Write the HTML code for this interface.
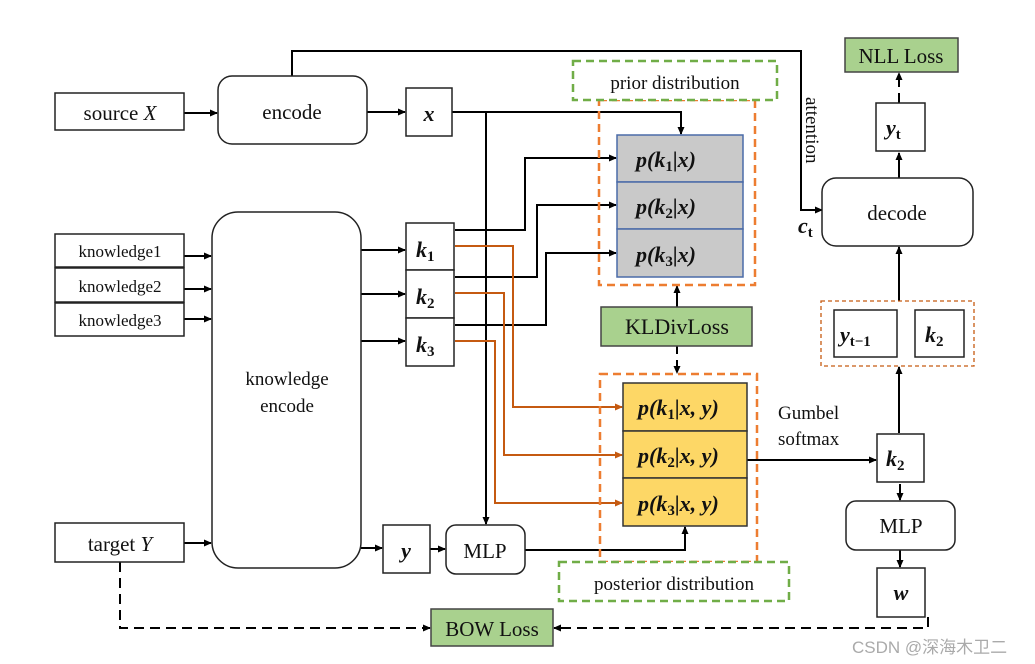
<!DOCTYPE html>
<html><head><meta charset="utf-8"><style>
html,body{margin:0;padding:0;background:#fff;width:1035px;height:664px;overflow:hidden}
text{font-family:"Liberation Serif",serif;fill:#111}
.b{font-weight:bold;font-style:italic}
.s{font-style:normal;font-size:15px}
</style></head><body>
<svg width="1035" height="664" viewBox="0 0 1035 664" xmlns="http://www.w3.org/2000/svg">
<defs>
<marker id="a" markerWidth="8" markerHeight="8" refX="7" refY="4" orient="auto" markerUnits="userSpaceOnUse"><path d="M0,0.5 L8,4 L0,7.5z" fill="#000"/></marker>
<marker id="o" markerWidth="8" markerHeight="8" refX="7" refY="4" orient="auto" markerUnits="userSpaceOnUse"><path d="M0,0.5 L8,4 L0,7.5z" fill="#c55a11"/></marker>
</defs>
<g fill="none" stroke="#000" stroke-width="2">
<polyline points="292,76 292,51 801,51 801,210 822,210" marker-end="url(#a)"/>
<line x1="184" y1="113" x2="217" y2="113" marker-end="url(#a)"/>
<line x1="367" y1="112" x2="405" y2="112" marker-end="url(#a)"/>
<polyline points="452,112 681,112 681,134" marker-end="url(#a)"/>
<line x1="486" y1="112" x2="486" y2="524" marker-end="url(#a)"/>
<line x1="184" y1="256" x2="211" y2="256" marker-end="url(#a)"/>
<line x1="184" y1="289" x2="211" y2="289" marker-end="url(#a)"/>
<line x1="184" y1="319" x2="211" y2="319" marker-end="url(#a)"/>
<line x1="184" y1="543" x2="211" y2="543" marker-end="url(#a)"/>
<line x1="361" y1="250" x2="405" y2="250" marker-end="url(#a)"/>
<line x1="361" y1="294" x2="405" y2="294" marker-end="url(#a)"/>
<line x1="361" y1="341" x2="405" y2="341" marker-end="url(#a)"/>
<line x1="361" y1="548" x2="382" y2="548" marker-end="url(#a)"/>
<line x1="430" y1="549" x2="445" y2="549" marker-end="url(#a)"/>
<polyline points="455,230 525,230 525,158 616,158" marker-end="url(#a)"/>
<polyline points="455,277 537,277 537,205 616,205" marker-end="url(#a)"/>
<polyline points="455,325 546,325 546,253 616,253" marker-end="url(#a)"/>
<polyline points="525,550 685,550 685,527" marker-end="url(#a)"/>
<line x1="747" y1="460" x2="876" y2="460" marker-end="url(#a)"/>
<line x1="677" y1="307" x2="677" y2="286" marker-end="url(#a)"/>
<line x1="899" y1="433" x2="899" y2="367" marker-end="url(#a)"/>
<line x1="899" y1="301" x2="899" y2="247" marker-end="url(#a)"/>
<line x1="899" y1="178" x2="899" y2="153" marker-end="url(#a)"/>
<line x1="899" y1="103" x2="899" y2="73" marker-end="url(#a)" stroke-dasharray="10,6"/>
<line x1="900" y1="484" x2="900" y2="500" marker-end="url(#a)"/>
<line x1="900" y1="550" x2="900" y2="567" marker-end="url(#a)"/>
<line x1="677" y1="346" x2="677" y2="373" marker-end="url(#a)" stroke-dasharray="8,6"/>
<polyline points="120,562 120,628 430,628" marker-end="url(#a)" stroke-dasharray="10,6"/>
<polyline points="928,617 928,628 554,628" marker-end="url(#a)" stroke-dasharray="10,6"/>
</g>
<g fill="none" stroke="#c55a11" stroke-width="2">
<polyline points="455,246 513,246 513,407 622,407" marker-end="url(#o)"/>
<polyline points="455,293 504,293 504,455 622,455" marker-end="url(#o)"/>
<polyline points="455,341 495,341 495,503 622,503" marker-end="url(#o)"/>
</g>
<g fill="none" stroke-width="2.5" stroke-dasharray="8,5">
<rect x="599" y="100" width="156" height="185" stroke="#ed7d31"/>
<rect x="600" y="374" width="157" height="188" stroke="#ed7d31"/>
<rect x="573" y="61" width="204" height="39" stroke="#70ad47" fill="#fff"/>
<rect x="559" y="562" width="230" height="39" stroke="#70ad47" fill="#fff"/>
</g>
<rect x="821" y="301" width="153" height="65" fill="none" stroke="#c55a11" stroke-width="1.3" stroke-dasharray="4,3"/>
<g stroke="#222" stroke-width="1.5" fill="#fff">
<rect x="55" y="93" width="129" height="37"/>
<rect x="218" y="76" width="149" height="68" rx="14"/>
<rect x="406" y="88" width="46" height="48"/>
<rect x="55" y="234" width="129" height="33"/>
<rect x="55" y="268" width="129" height="34"/>
<rect x="55" y="303" width="129" height="33"/>
<rect x="212" y="212" width="149" height="356" rx="26"/>
<rect x="406" y="223" width="48" height="47"/>
<rect x="406" y="270" width="48" height="48"/>
<rect x="406" y="318" width="48" height="48"/>
<rect x="55" y="523" width="129" height="39"/>
<rect x="383" y="525" width="47" height="48"/>
<rect x="446" y="525" width="79" height="49" rx="10"/>
<rect x="822" y="178" width="151" height="68" rx="14"/>
<rect x="876" y="103" width="49" height="48"/>
<rect x="834" y="310" width="63" height="47"/>
<rect x="915" y="310" width="49" height="47"/>
<rect x="877" y="434" width="47" height="48"/>
<rect x="846" y="501" width="109" height="49" rx="10"/>
<rect x="877" y="568" width="48" height="49"/>
</g>
<g stroke="#4a6ba8" stroke-width="1.5" fill="#c9c9c9">
<rect x="617" y="135" width="126" height="47"/>
<rect x="617" y="182" width="126" height="47"/>
<rect x="617" y="229" width="126" height="48"/>
</g>
<g stroke="#333" stroke-width="1.5" fill="#fdd766">
<rect x="623" y="383" width="124" height="48"/>
<rect x="623" y="431" width="124" height="47"/>
<rect x="623" y="478" width="124" height="48"/>
</g>
<g stroke="#444" stroke-width="1.5" fill="#a9d18e">
<rect x="601" y="307" width="151" height="39"/>
<rect x="431" y="609" width="122" height="37"/>
<rect x="845" y="38" width="113" height="34"/>
</g>
<g font-size="21" text-anchor="middle">
<text x="120" y="120">source <tspan font-style="italic">X</tspan></text>
<text x="292" y="119">encode</text>
<text x="120" y="551">target <tspan font-style="italic">Y</tspan></text>
<text x="897" y="220">decode</text>
<text x="901" y="533">MLP</text>
<text x="485" y="558">MLP</text>
<text x="677" y="334" font-size="22">KLDivLoss</text>
<text x="492" y="636">BOW Loss</text>
<text x="901" y="63">NLL Loss</text>
</g>
<g font-size="17" text-anchor="middle">
<text x="120" y="257">knowledge1</text>
<text x="120" y="292">knowledge2</text>
<text x="120" y="326">knowledge3</text>
<text x="287" y="385" font-size="19">knowledge</text>
<text x="287" y="412" font-size="19">encode</text>
<text x="675" y="89" font-size="19">prior distribution</text>
<text x="674" y="590" font-size="19">posterior distribution</text>
</g>
<text x="778" y="419" font-size="19">Gumbel</text>
<text x="778" y="445" font-size="19">softmax</text>
<text x="806" y="97" font-size="19" transform="rotate(90 806 97)">attention</text>
<g class="b" font-size="22">
<text x="429" y="121" text-anchor="middle">x</text>
<text x="416" y="257">k<tspan class="s" dy="4">1</tspan></text>
<text x="416" y="304">k<tspan class="s" dy="4">2</tspan></text>
<text x="416" y="352">k<tspan class="s" dy="4">3</tspan></text>
<text x="406" y="558" text-anchor="middle">y</text>
<text x="886" y="135">y<tspan class="s" dy="4">t</tspan></text>
<text x="840" y="342">y<tspan class="s" dy="4">t−1</tspan></text>
<text x="925" y="342">k<tspan class="s" dy="4">2</tspan></text>
<text x="886" y="466">k<tspan class="s" dy="4">2</tspan></text>
<text x="901" y="600" text-anchor="middle">w</text>
<text x="798" y="233">c<tspan class="s" dy="4">t</tspan></text>
<text x="636" y="167">p(k<tspan class="s" dy="4">1</tspan><tspan dy="-4">|x)</tspan></text>
<text x="636" y="214">p(k<tspan class="s" dy="4">2</tspan><tspan dy="-4">|x)</tspan></text>
<text x="636" y="262">p(k<tspan class="s" dy="4">3</tspan><tspan dy="-4">|x)</tspan></text>
<text x="638" y="415">p(k<tspan class="s" dy="4">1</tspan><tspan dy="-4">|x, y)</tspan></text>
<text x="638" y="463">p(k<tspan class="s" dy="4">2</tspan><tspan dy="-4">|x, y)</tspan></text>
<text x="638" y="511">p(k<tspan class="s" dy="4">3</tspan><tspan dy="-4">|x, y)</tspan></text>
</g>
<text x="852" y="653" font-size="17" style="font-family:'Liberation Sans','Noto Sans CJK SC',sans-serif;fill:#aaa">CSDN @深海木卫二</text>
</svg>
</body></html>
